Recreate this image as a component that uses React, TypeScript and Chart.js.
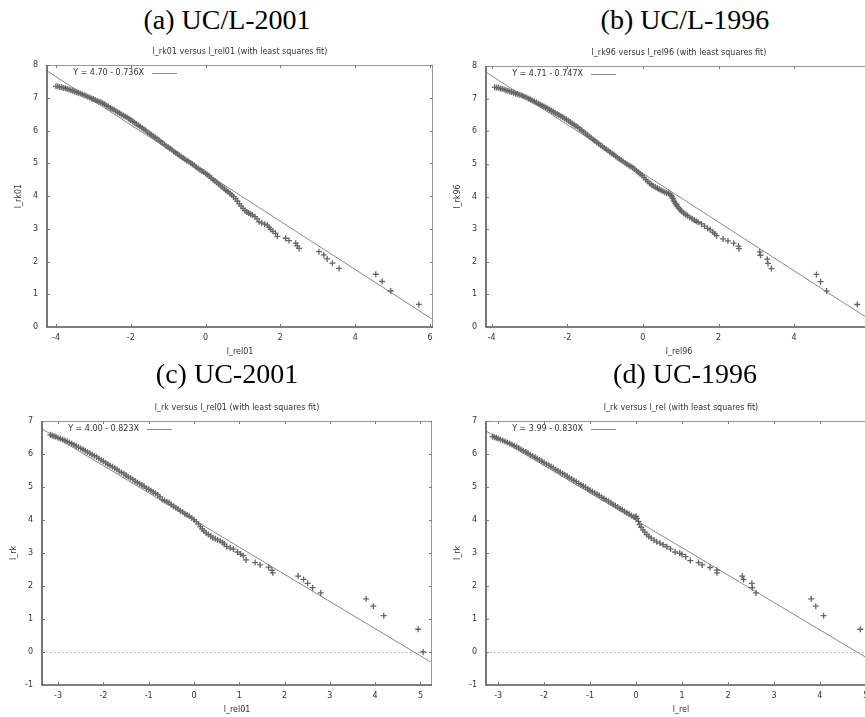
import React, { useEffect, useRef } from "react";
import { Chart, registerables } from "chart.js";

Chart.register(...registerables);

const SANS = "'DejaVu Sans', sans-serif";
const SERIF = "'Liberation Serif', 'Times New Roman', serif";

// ---------- data: [l_rel, l_rk] ----------
const pointsA: [number, number][] = [
  [-4.00, 7.35], [-3.95, 7.34], [-3.90, 7.33], [-3.85, 7.32], [-3.80, 7.30], [-3.75, 7.29], [-3.70, 7.27],
  [-3.65, 7.25], [-3.60, 7.23], [-3.55, 7.21], [-3.50, 7.19], [-3.45, 7.17], [-3.40, 7.15], [-3.35, 7.13],
  [-3.30, 7.11], [-3.25, 7.08], [-3.20, 7.06], [-3.15, 7.03], [-3.10, 7.01], [-3.05, 6.98], [-3.00, 6.96],
  [-2.95, 6.93], [-2.90, 6.91], [-2.85, 6.88], [-2.80, 6.86], [-2.75, 6.83], [-2.70, 6.80], [-2.65, 6.76],
  [-2.60, 6.73], [-2.55, 6.69], [-2.50, 6.66], [-2.45, 6.63], [-2.40, 6.59], [-2.35, 6.56], [-2.30, 6.53],
  [-2.25, 6.49], [-2.20, 6.46], [-2.15, 6.43], [-2.10, 6.40], [-2.05, 6.36], [-2.00, 6.32], [-1.95, 6.28],
  [-1.90, 6.24], [-1.85, 6.20], [-1.80, 6.16], [-1.75, 6.12], [-1.70, 6.08], [-1.65, 6.04], [-1.60, 6.00],
  [-1.55, 5.95], [-1.50, 5.91], [-1.45, 5.87], [-1.40, 5.83], [-1.35, 5.79], [-1.30, 5.75], [-1.25, 5.70],
  [-1.20, 5.66], [-1.15, 5.62], [-1.10, 5.57], [-1.05, 5.53], [-1.00, 5.49], [-0.95, 5.45], [-0.90, 5.41],
  [-0.85, 5.36], [-0.80, 5.32], [-0.75, 5.28], [-0.70, 5.24], [-0.65, 5.20], [-0.60, 5.16], [-0.55, 5.12],
  [-0.50, 5.08], [-0.45, 5.05], [-0.40, 5.01], [-0.35, 4.97], [-0.30, 4.93], [-0.25, 4.88], [-0.20, 4.84],
  [-0.15, 4.80], [-0.10, 4.76], [-0.05, 4.73], [0.00, 4.69], [0.05, 4.65], [0.10, 4.61], [0.15, 4.55],
  [0.20, 4.50], [0.25, 4.46], [0.30, 4.41], [0.35, 4.36], [0.40, 4.31], [0.45, 4.27], [0.50, 4.22],
  [0.55, 4.17], [0.60, 4.13], [0.65, 4.08], [0.70, 4.03], [0.75, 3.98], [0.80, 3.91], [0.85, 3.84],
  [0.90, 3.77], [0.95, 3.69], [1.00, 3.62], [1.05, 3.56], [1.10, 3.51], [1.15, 3.48], [1.20, 3.45],
  [1.25, 3.42], [1.32, 3.37], [1.38, 3.30], [1.43, 3.21], [1.50, 3.18], [1.58, 3.14], [1.65, 3.11],
  [1.70, 3.04], [1.74, 2.98], [1.80, 2.92], [1.87, 2.86], [1.92, 2.77], [2.14, 2.71], [2.23, 2.64],
  [2.41, 2.56], [2.45, 2.48], [2.50, 2.40], [3.03, 2.30], [3.16, 2.20], [3.25, 2.08], [3.39, 1.95],
  [3.57, 1.79], [4.55, 1.61], [4.72, 1.39], [4.95, 1.10], [5.70, 0.69],
];

const pointsB: [number, number][] = [
  [-3.92, 7.35], [-3.87, 7.34], [-3.82, 7.33], [-3.77, 7.31], [-3.72, 7.30], [-3.67, 7.28], [-3.62, 7.26],
  [-3.57, 7.24], [-3.52, 7.22], [-3.47, 7.20], [-3.42, 7.18], [-3.37, 7.16], [-3.32, 7.14], [-3.27, 7.12],
  [-3.22, 7.11], [-3.17, 7.08], [-3.12, 7.05], [-3.07, 7.03], [-3.02, 7.00], [-2.97, 6.97], [-2.92, 6.94],
  [-2.87, 6.91], [-2.82, 6.88], [-2.77, 6.85], [-2.72, 6.82], [-2.67, 6.79], [-2.62, 6.76], [-2.57, 6.73],
  [-2.52, 6.70], [-2.47, 6.66], [-2.42, 6.63], [-2.37, 6.60], [-2.32, 6.56], [-2.27, 6.53], [-2.22, 6.50],
  [-2.17, 6.46], [-2.12, 6.43], [-2.07, 6.39], [-2.02, 6.36], [-1.97, 6.32], [-1.92, 6.28], [-1.87, 6.24],
  [-1.82, 6.20], [-1.77, 6.16], [-1.72, 6.12], [-1.67, 6.07], [-1.62, 6.03], [-1.57, 5.98], [-1.52, 5.94],
  [-1.47, 5.89], [-1.42, 5.84], [-1.37, 5.80], [-1.32, 5.75], [-1.27, 5.71], [-1.22, 5.66], [-1.17, 5.62],
  [-1.12, 5.57], [-1.07, 5.53], [-1.02, 5.49], [-0.97, 5.45], [-0.92, 5.41], [-0.87, 5.36], [-0.82, 5.32],
  [-0.77, 5.28], [-0.72, 5.23], [-0.67, 5.19], [-0.62, 5.15], [-0.57, 5.11], [-0.52, 5.07], [-0.47, 5.03],
  [-0.42, 4.99], [-0.37, 4.95], [-0.32, 4.92], [-0.27, 4.88], [-0.22, 4.84], [-0.17, 4.79], [-0.12, 4.74],
  [-0.07, 4.69], [-0.02, 4.64], [0.03, 4.58], [0.08, 4.52], [0.13, 4.46], [0.18, 4.40], [0.23, 4.36],
  [0.28, 4.32], [0.33, 4.28], [0.38, 4.25], [0.43, 4.22], [0.48, 4.19], [0.53, 4.16], [0.58, 4.13],
  [0.63, 4.11], [0.68, 4.09], [0.72, 4.07], [0.75, 4.03], [0.77, 3.99], [0.79, 3.94], [0.81, 3.89],
  [0.83, 3.84], [0.86, 3.79], [0.89, 3.74], [0.92, 3.69], [0.95, 3.64], [0.99, 3.59], [1.03, 3.54],
  [1.08, 3.49], [1.13, 3.45], [1.18, 3.41], [1.24, 3.36], [1.30, 3.32], [1.36, 3.28], [1.41, 3.24],
  [1.46, 3.21], [1.55, 3.16], [1.63, 3.09], [1.71, 3.02], [1.78, 2.98], [1.85, 2.91], [1.90, 2.86],
  [1.95, 2.80], [2.12, 2.70], [2.25, 2.64], [2.40, 2.57], [2.53, 2.48], [2.54, 2.40], [3.09, 2.30],
  [3.11, 2.20], [3.29, 2.08], [3.31, 1.95], [3.40, 1.79], [4.59, 1.61], [4.70, 1.39], [4.86, 1.10],
  [5.67, 0.69],
];

const pointsC: [number, number][] = [
  [-3.17, 6.58], [-3.13, 6.56], [-3.09, 6.54], [-3.05, 6.52], [-3.00, 6.49], [-2.95, 6.47], [-2.90, 6.44],
  [-2.85, 6.41], [-2.80, 6.38], [-2.75, 6.35], [-2.70, 6.31], [-2.65, 6.28], [-2.60, 6.24], [-2.55, 6.21],
  [-2.50, 6.17], [-2.45, 6.14], [-2.40, 6.10], [-2.35, 6.06], [-2.30, 6.02], [-2.25, 5.98], [-2.20, 5.95],
  [-2.15, 5.91], [-2.10, 5.86], [-2.05, 5.82], [-2.00, 5.78], [-1.95, 5.73], [-1.90, 5.69], [-1.85, 5.65],
  [-1.80, 5.61], [-1.75, 5.57], [-1.70, 5.53], [-1.65, 5.48], [-1.60, 5.44], [-1.55, 5.40], [-1.50, 5.36],
  [-1.45, 5.31], [-1.40, 5.27], [-1.35, 5.23], [-1.30, 5.18], [-1.25, 5.14], [-1.20, 5.10], [-1.15, 5.06],
  [-1.10, 5.02], [-1.05, 4.97], [-1.00, 4.93], [-0.95, 4.89], [-0.90, 4.85], [-0.85, 4.81], [-0.80, 4.76],
  [-0.75, 4.70], [-0.70, 4.62], [-0.65, 4.59], [-0.60, 4.55], [-0.55, 4.52], [-0.50, 4.47], [-0.45, 4.42],
  [-0.40, 4.37], [-0.35, 4.33], [-0.30, 4.28], [-0.25, 4.24], [-0.20, 4.19], [-0.15, 4.15], [-0.10, 4.11],
  [-0.05, 4.06], [0.00, 4.01], [0.05, 3.95], [0.10, 3.88], [0.14, 3.80], [0.18, 3.73], [0.22, 3.67],
  [0.27, 3.61], [0.32, 3.56], [0.37, 3.51], [0.42, 3.46], [0.47, 3.43], [0.52, 3.40], [0.58, 3.37],
  [0.63, 3.32], [0.67, 3.27], [0.72, 3.20], [0.80, 3.15], [0.87, 3.12], [0.96, 3.03], [1.03, 2.97],
  [1.09, 2.92], [1.15, 2.79], [1.35, 2.71], [1.46, 2.64], [1.65, 2.57], [1.72, 2.48], [1.74, 2.40],
  [2.30, 2.30], [2.42, 2.20], [2.51, 2.08], [2.62, 1.95], [2.80, 1.79], [3.80, 1.61], [3.96, 1.39],
  [4.19, 1.10], [4.95, 0.69], [5.06, 0.00],
];

const pointsD: [number, number][] = [
  [-3.12, 6.53], [-3.08, 6.51], [-3.04, 6.49], [-3.00, 6.47], [-2.95, 6.44], [-2.90, 6.41], [-2.85, 6.38],
  [-2.80, 6.35], [-2.75, 6.32], [-2.70, 6.29], [-2.65, 6.25], [-2.60, 6.22], [-2.55, 6.18], [-2.50, 6.14],
  [-2.45, 6.10], [-2.40, 6.06], [-2.35, 6.02], [-2.30, 5.98], [-2.25, 5.94], [-2.20, 5.90], [-2.15, 5.86],
  [-2.10, 5.82], [-2.05, 5.78], [-2.00, 5.74], [-1.95, 5.70], [-1.90, 5.66], [-1.85, 5.62], [-1.80, 5.58],
  [-1.75, 5.53], [-1.70, 5.49], [-1.65, 5.45], [-1.60, 5.41], [-1.55, 5.37], [-1.50, 5.33], [-1.45, 5.28],
  [-1.40, 5.24], [-1.35, 5.20], [-1.30, 5.16], [-1.25, 5.11], [-1.20, 5.07], [-1.15, 5.03], [-1.10, 4.99],
  [-1.05, 4.94], [-1.00, 4.90], [-0.95, 4.86], [-0.90, 4.82], [-0.85, 4.78], [-0.80, 4.74], [-0.75, 4.69],
  [-0.70, 4.65], [-0.65, 4.61], [-0.60, 4.57], [-0.55, 4.52], [-0.50, 4.48], [-0.45, 4.44], [-0.40, 4.39],
  [-0.35, 4.35], [-0.30, 4.31], [-0.25, 4.26], [-0.20, 4.22], [-0.15, 4.18], [-0.10, 4.14], [-0.05, 4.10],
  [-0.02, 4.08], [0.00, 4.11], [0.02, 4.05], [0.05, 3.96], [0.08, 3.86], [0.11, 3.78], [0.15, 3.70],
  [0.19, 3.63], [0.23, 3.56], [0.28, 3.50], [0.33, 3.45], [0.39, 3.39], [0.45, 3.34], [0.52, 3.30],
  [0.59, 3.25], [0.67, 3.19], [0.75, 3.12], [0.85, 3.03], [0.95, 2.99], [1.00, 2.96], [1.08, 2.89],
  [1.18, 2.77], [1.36, 2.71], [1.44, 2.64], [1.61, 2.56], [1.76, 2.48], [1.76, 2.40], [2.31, 2.30],
  [2.34, 2.20], [2.52, 2.08], [2.53, 1.95], [2.61, 1.79], [3.81, 1.61], [3.91, 1.39], [4.08, 1.10],
  [4.88, 0.69],
];

// least squares fits (intercept, slope) as printed in the legends
const fitA = { a: 4.70, b: -0.736, label: "Y = 4.70 - 0.736X" };
const fitB = { a: 4.71, b: -0.747, label: "Y = 4.71 - 0.747X" };
const fitC = { a: 4.00, b: -0.823, label: "Y = 4.00 - 0.823X" };
const fitD = { a: 3.99, b: -0.830, label: "Y = 3.99 - 0.830X" };

const panelTitles = ["(a) UC/L-2001", "(b) UC/L-1996", "(c) UC-2001", "(d) UC-1996"];
const subTitles = [
  "l_rk01 versus l_rel01 (with least squares fit)",
  "l_rk96 versus l_rel96 (with least squares fit)",
  "l_rk versus l_rel01 (with least squares fit)",
  "l_rk versus l_rel (with least squares fit)",
];
const xLabels = ["l_rel01", "l_rel96", "l_rel01", "l_rel"];
const yLabels = ["l_rk01", "l_rk96", "l_rk", "l_rk"];

type Fit = { a: number; b: number; label: string };
type PanelCfg = {
  title: string; subtitle: string; xLabel: string; yLabel: string;
  pts: [number, number][]; fit: Fit;
  xMin: number; xMax: number; yMin: number; yMax: number; xStep: number; zero: boolean;
  L: number; R: number; T: number; B: number; titleCx: number; titleTop: number;
};

const panels: PanelCfg[] = [
  { title: panelTitles[0], subtitle: subTitles[0], xLabel: xLabels[0], yLabel: yLabels[0], pts: pointsA, fit: fitA,
    xMin: -4.24, xMax: 6.08, yMin: 0, yMax: 8, xStep: 2, zero: false, L: 47, R: 433, T: 65, B: 327, titleCx: 227, titleTop: 6 },
  { title: panelTitles[1], subtitle: subTitles[1], xLabel: xLabels[1], yLabel: yLabels[1], pts: pointsB, fit: fitB,
    xMin: -4.15, xMax: 6.06, yMin: 0, yMax: 8, xStep: 2, zero: false, L: 486, R: 872, T: 66, B: 327, titleCx: 685, titleTop: 6 },
  { title: panelTitles[2], subtitle: subTitles[2], xLabel: xLabels[2], yLabel: yLabels[2], pts: pointsC, fit: fitC,
    xMin: -3.355, xMax: 5.255, yMin: -1, yMax: 7, xStep: 1, zero: true, L: 42, R: 432, T: 421, B: 685, titleCx: 227, titleTop: 360 },
  { title: panelTitles[3], subtitle: subTitles[3], xLabel: xLabels[3], yLabel: yLabels[3], pts: pointsD, fit: fitD,
    xMin: -3.264, xMax: 5.22, yMin: -1, yMax: 7, xStep: 1, zero: true, L: 486, R: 876, T: 421, B: 685, titleCx: 685, titleTop: 360 },
];

const decor = {
  id: "gnuplotDecor",
  beforeDatasetsDraw(chart: any, _a: any, opts: any) {
    if (!opts.zero) return;
    const { ctx, chartArea: ca, scales } = chart;
    const py = scales.y.getPixelForValue(0);
    ctx.save();
    ctx.strokeStyle = "#b0b0b0";
    ctx.lineWidth = 1;
    ctx.setLineDash([1.5, 2.5]);
    ctx.beginPath();
    ctx.moveTo(ca.left, Math.round(py) + 0.5);
    ctx.lineTo(ca.right, Math.round(py) + 0.5);
    ctx.stroke();
    ctx.restore();
  },
  afterDraw(chart: any, _a: any, opts: any) {
    const { ctx, chartArea: ca, scales } = chart;
    ctx.save();
    // frame
    ctx.strokeStyle = "#999";
    ctx.lineWidth = 1;
    ctx.beginPath();
    ctx.moveTo(ca.left, ca.top + 0.5);
    ctx.lineTo(ca.right, ca.top + 0.5);
    ctx.moveTo(ca.right - 0.5, ca.top);
    ctx.lineTo(ca.right - 0.5, ca.bottom);
    ctx.stroke();
    ctx.strokeStyle = "#555";
    ctx.lineWidth = 1.6;
    ctx.beginPath();
    ctx.moveTo(ca.left, ca.top);
    ctx.lineTo(ca.left, ca.bottom);
    ctx.lineTo(ca.right, ca.bottom);
    ctx.stroke();
    // inward tick marks
    ctx.strokeStyle = "#777";
    ctx.lineWidth = 1;
    ctx.beginPath();
    for (const t of scales.x.ticks) {
      const px = Math.round(scales.x.getPixelForValue(t.value)) + 0.5;
      ctx.moveTo(px, ca.bottom);
      ctx.lineTo(px, ca.bottom - 3);
      ctx.moveTo(px, ca.top);
      ctx.lineTo(px, ca.top + 3);
    }
    for (const t of scales.y.ticks) {
      const py = Math.round(scales.y.getPixelForValue(t.value)) + 0.5;
      ctx.moveTo(ca.left, py);
      ctx.lineTo(ca.left + 3, py);
      ctx.moveTo(ca.right, py);
      ctx.lineTo(ca.right - 3, py);
    }
    ctx.stroke();
    // subtitle
    ctx.fillStyle = "#333";
    ctx.font = `8px ${SANS}`;
    ctx.textAlign = "center";
    ctx.textBaseline = "middle";
    ctx.fillText(opts.subtitle, (ca.left + ca.right) / 2, ca.top - 13.5);
    // key
    ctx.textAlign = "right";
    ctx.fillText(opts.key, ca.left + 97, ca.top + 7.5);
    ctx.strokeStyle = "#888";
    ctx.beginPath();
    ctx.moveTo(ca.left + 105, Math.round(ca.top + 7.5) + 0.5);
    ctx.lineTo(ca.left + 130, Math.round(ca.top + 7.5) + 0.5);
    ctx.stroke();
    ctx.restore();
  },
};

function Panel({ cfg }: { cfg: PanelCfg }) {
  const ref = useRef<HTMLCanvasElement | null>(null);
  const cLeft = cfg.L - 47;
  const cTop = cfg.T - 29;
  const cW = cfg.R - cfg.L + 54;
  const cH = cfg.B - cfg.T + 68;

  useEffect(() => {
    if (!ref.current) return;
    const font = { family: SANS, size: 8 };
    const fitLine = [cfg.xMin, cfg.xMax].map((x) => ({ x, y: cfg.fit.a + cfg.fit.b * x }));
    const chart = new Chart(ref.current, {
      type: "scatter",
      data: {
        datasets: [
          {
            data: cfg.pts.map(([x, y]) => ({ x, y })),
            pointStyle: "cross",
            pointRadius: 3,
            borderWidth: 1.3,
            borderColor: "#666",
            backgroundColor: "#666",
          },
          {
            data: fitLine,
            showLine: true,
            pointRadius: 0,
            borderWidth: 1,
            borderColor: "#8a8a8a",
          } as any,
        ],
      },
      options: {
        animation: false,
        responsive: false,
        events: [],
        layout: { padding: { left: 0, right: 7, top: 29, bottom: 0 } },
        scales: {
          x: {
            type: "linear",
            min: cfg.xMin,
            max: cfg.xMax,
            grid: { display: false, drawTicks: false },
            border: { display: false },
            ticks: { stepSize: cfg.xStep, includeBounds: false, padding: 6, color: "#333", font, maxRotation: 0 },
            title: { display: true, text: cfg.xLabel, color: "#333", font, padding: { top: 0, bottom: 9.5 } },
            afterFit: (s: any) => { s.height = 39; },
          },
          y: {
            type: "linear",
            min: cfg.yMin,
            max: cfg.yMax,
            grid: { display: false, drawTicks: false },
            border: { display: false },
            ticks: { stepSize: 1, includeBounds: false, padding: 9, color: "#333", font },
            title: { display: true, text: cfg.yLabel, color: "#333", font, padding: { top: 14, bottom: 0 } },
            afterFit: (s: any) => { s.width = 47; },
          },
        },
        plugins: {
          legend: { display: false },
          tooltip: { enabled: false },
          gnuplotDecor: { zero: cfg.zero, subtitle: cfg.subtitle, key: cfg.fit.label },
        } as any,
      },
      plugins: [decor],
    });
    return () => chart.destroy();
  }, [cfg]);

  return (
    <>
      <div
        style={{
          position: "absolute",
          left: cfg.titleCx - 150,
          top: cfg.titleTop,
          width: 300,
          textAlign: "center",
          fontFamily: SERIF,
          fontSize: 28,
          lineHeight: "28px",
          color: "#000",
          whiteSpace: "nowrap",
        }}
      >
        {cfg.title}
      </div>
      <canvas
        ref={ref}
        width={cW}
        height={cH}
        style={{ position: "absolute", left: cLeft, top: cTop, width: cW, height: cH }}
      />
    </>
  );
}

export default function App() {
  return (
    <div
      style={{
        position: "absolute",
        left: 0,
        top: 0,
        width: 865,
        height: 717,
        overflow: "hidden",
        background: "#fff",
      }}
    >
      {panels.map((p, i) => (
        <Panel key={i} cfg={p} />
      ))}
    </div>
  );
}
